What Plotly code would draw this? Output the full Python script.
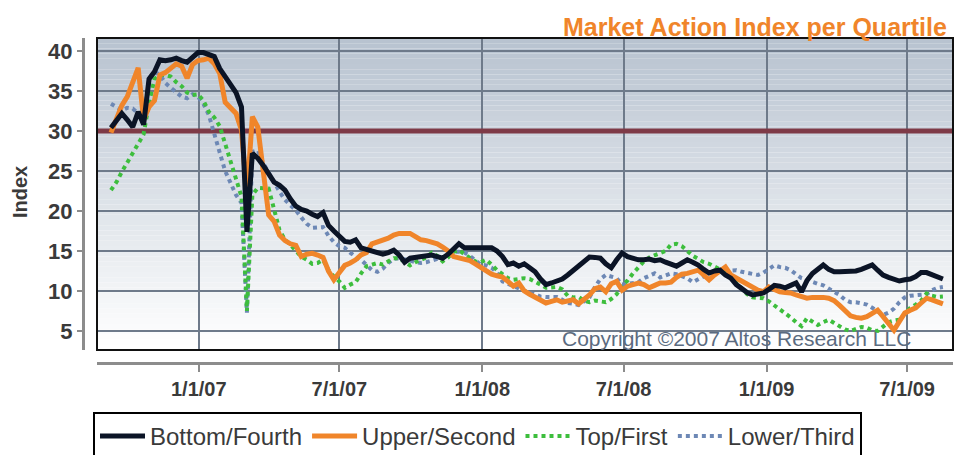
import pandas as pd
import plotly.graph_objects as go

# ---- data (weekly readings) ----
start_date = "2006-09-10"
n_weeks = 154
dates = pd.date_range(start_date, periods=n_weeks, freq="7D")

bottom_fourth = [
    30.4, 31.3, 32.2, 31.4, 30.5, 32.4, 30.8, 36.5, 37.4, 38.9,
    38.8, 38.9, 39.1, 38.8, 38.6, 39.2, 39.8, 39.8, 39.6, 39.3,
    37.8, 36.8, 36.0, 34.8, 33.0, 17.4, 27.2, 26.6, 25.7, 24.7,
    23.6, 23.2, 22.6, 21.5, 20.6, 20.2, 20.0, 19.6, 19.3, 19.8,
    18.2, 17.5, 16.8, 16.2, 16.1, 16.4, 15.4, 15.2, 15.1, 14.9,
    14.6, 14.8, 15.1, 14.5, 13.6, 14.1, 14.2, 14.3, 14.4, 14.5,
    14.3, 14.1, 14.6, 15.3, 15.9, 15.4, 15.4, 15.5, 15.5, 15.5,
    15.4, 15.0, 14.3, 13.3, 13.5, 13.1, 13.4, 12.9, 12.4, 11.5,
    10.8, 11.0, 11.25, 11.5, 12.0, 12.6, 13.0, 13.8, 14.25, 14.2,
    14.1, 13.4, 12.9, 13.9, 14.75, 14.3, 14.1, 13.9, 13.9, 14.0,
    13.8, 13.9, 13.6, 13.4, 13.1, 13.5, 13.9, 13.6, 13.25, 12.7,
    12.25, 12.5, 12.6, 12.0, 11.6, 10.8, 10.2, 9.8, 9.5, 9.6,
    9.75, 10.2, 10.7, 10.6, 10.4, 10.7, 11.0, 9.9, 11.3, 12.2,
    12.8, 13.25, 12.7, 12.4, 12.4, 12.4, 12.5, 12.5, 12.7, 13.0,
    13.25, 12.6, 12.0, 11.7, 11.4, 11.25, 11.4, 11.5, 11.8, 12.3,
    12.3, 12.0, 11.7, 11.5,
]

upper_second = [
    29.8, 31.5, 33.2, 34.3, 36.2, 37.9, 31.4, 33.0, 33.8, 37.0,
    37.3, 37.8, 38.4, 38.1, 36.6, 38.3, 38.8, 38.9, 39.1, 38.4,
    37.2, 33.6, 32.8, 32.2, 30.1, 22.0, 31.8, 30.5, 25.0, 19.5,
    18.7, 17.0, 16.3, 15.9, 15.7, 14.3, 14.6, 14.7, 14.5, 14.2,
    12.5, 11.4, 12.3, 13.2, 13.5, 13.9, 14.5, 14.8, 15.9, 16.1,
    16.3, 16.6, 17.0, 17.2, 17.2, 17.2, 16.8, 16.4, 16.3, 16.1,
    15.9, 15.5, 15.0, 14.3, 14.1, 14.0, 13.8, 13.4, 13.0, 12.5,
    12.1, 11.9, 11.75, 11.2, 10.6, 11.0, 10.0, 9.6, 9.2, 8.9,
    8.5, 8.7, 8.9, 8.6, 8.8, 8.9, 8.4, 8.9, 9.5, 10.3,
    10.5, 9.9, 10.9, 11.2, 10.1, 10.6, 10.8, 11.0, 10.8, 10.4,
    10.7, 11.0, 11.0, 11.1, 11.7, 12.1, 12.2, 12.4, 12.6, 12.0,
    11.4, 12.0, 12.5, 13.0, 12.0, 11.6, 11.2, 10.8, 10.4, 10.1,
    9.9, 10.5, 10.2, 9.9, 9.8, 9.75, 9.5, 9.3, 9.1, 9.2,
    9.25, 9.2, 9.1, 8.8, 8.2, 7.6, 6.9, 6.7, 6.6, 6.8,
    7.2, 7.6, 6.8, 6.0, 5.1, 6.2, 7.25, 7.6, 7.9, 8.5,
    9.1, 8.9, 8.6, 8.4,
]

top_first = [
    22.6, 23.6, 24.9, 26.0, 27.3, 28.4, 29.6, 33.5, 36.5, 37.0,
    37.0, 36.8, 36.1, 35.6, 34.8, 34.5, 34.6, 33.8, 32.4, 31.7,
    30.6, 28.4, 26.6, 24.3, 21.8, 7.5, 22.0, 22.9, 22.9, 22.8,
    20.2, 17.6, 16.4, 15.8, 15.0, 14.3, 13.9, 13.4, 13.5, 13.9,
    12.6, 11.8, 11.2, 10.4, 10.8, 11.1, 12.2, 13.1, 13.3, 13.5,
    13.3, 13.7, 14.1, 14.1, 13.7, 13.2, 13.6, 13.9, 14.2, 14.8,
    14.4, 13.7, 14.2, 14.9, 15.1, 14.6, 14.2, 13.7, 13.6, 13.9,
    13.3, 12.6, 12.1, 11.6, 11.4, 11.5, 11.6, 11.5, 11.2, 10.8,
    10.4, 10.4, 10.5, 10.2, 9.4, 9.2, 9.25, 8.8, 8.6, 8.8,
    8.7, 8.6, 9.0, 9.6, 10.7, 11.3, 12.2, 13.0, 13.7, 14.2,
    14.5, 14.7, 15.0, 15.8, 15.9, 15.6, 15.0, 14.4, 14.0, 13.6,
    13.4, 13.1, 12.7, 12.2, 11.7, 11.0, 10.3, 9.6, 9.2, 9.2,
    9.1, 8.7, 8.2, 7.8, 7.2, 6.7, 6.1, 5.6, 6.6, 6.2,
    5.75, 6.1, 6.4, 6.0, 5.6, 5.2, 5.0, 5.3, 5.5, 5.4,
    5.1, 5.0, 5.6, 6.1, 6.3, 6.4, 7.2, 7.9, 8.3, 8.8,
    9.7, 9.4, 9.25, 9.3,
]

lower_third = [
    33.4, 33.0, 32.6, 32.9, 32.8, 32.2, 31.0, 36.4, 37.4, 37.0,
    36.0, 35.4, 34.9, 34.3, 34.1, 34.6, 34.3, 33.4, 32.0, 29.5,
    27.3, 25.0, 23.6, 22.0, 21.0, 7.3, 27.4, 27.6, 26.0, 24.7,
    23.6, 22.4, 21.4, 20.7, 20.1, 19.2, 18.4, 17.9, 17.9, 18.0,
    16.9, 16.1, 15.6, 15.4, 14.8, 14.25, 13.9, 13.3, 12.6, 12.4,
    12.8, 13.5, 14.0, 14.1, 14.0, 13.8, 13.6, 13.5, 13.6, 13.8,
    13.9, 14.2, 14.5, 14.9, 14.9, 14.8, 14.4, 13.8, 13.3, 13.2,
    12.9, 12.3, 11.2, 10.9, 10.6, 10.3, 10.0, 9.75, 9.6, 9.3,
    9.25, 9.3, 9.25, 8.9, 8.5, 8.4, 8.25, 8.7, 9.2, 10.5,
    11.5, 12.0, 11.8, 11.6, 10.8, 10.9, 11.0, 11.1, 11.6, 11.9,
    12.2, 11.7, 11.9, 12.2, 12.1, 11.8, 11.6, 11.1, 11.5, 11.9,
    12.2, 12.5, 12.6, 12.5, 12.5, 12.6, 12.4, 12.3, 12.2, 12.0,
    12.3, 12.8, 13.2, 13.0, 12.9, 12.6, 12.1, 11.6, 11.4, 11.1,
    10.9, 10.7, 10.3, 10.0, 9.5, 8.9, 8.6, 8.6, 8.5, 8.3,
    7.9, 7.4, 7.0, 7.3, 7.8, 8.6, 9.2, 9.4, 9.5, 9.5,
    9.6, 10.1, 10.4, 10.5,
]

threshold = 30
x_range = ["2006-08-23", "2009-08-29"]
x_tick_dates = ["2007-01-01", "2007-07-01", "2008-01-01", "2008-07-01", "2009-01-01", "2009-07-01"]
x_tick_labels = ["1/1/07", "7/1/07", "1/1/08", "7/1/08", "1/1/09", "7/1/09"]
y_ticks = [5, 10, 15, 20, 25, 30, 35, 40]

# ---- styling ----
FONT = "Liberation Sans, Arial, sans-serif"
C_BLACK = "#0B1426"
C_ORANGE = "#F0852A"
C_GREEN = "#3DBE3D"
C_BLUE = "#6D88B5"
C_GRID = "#6E7A8A"

fig = go.Figure()

# reference line at the threshold, drawn first so data lines sit on top
fig.add_trace(go.Scatter(
    x=x_range, y=[threshold, threshold], mode="lines",
    line=dict(color="#7E3A47", width=5), showlegend=False, hoverinfo="skip",
))

series = [
    ("Lower/Third", lower_third, C_BLUE, 4, "dot", 4),
    ("Top/First", top_first, C_GREEN, 4, "dot", 3),
    ("Upper/Second", upper_second, C_ORANGE, 5, "solid", 2),
    ("Bottom/Fourth", bottom_fourth, C_BLACK, 5, "solid", 1),
]
for name, vals, color, width, dash, rank in series:
    fig.add_trace(go.Scatter(
        x=dates, y=vals, name=name, mode="lines",
        line=dict(color=color, width=width, dash=dash),
        legendrank=rank,
    ))

# gradient background bands
N = 60
top_rgb = (184, 195, 208)
bot_rgb = (255, 255, 255)
shapes = []
for k in range(N):
    t = k / (N - 1)
    r = round(bot_rgb[0] + (top_rgb[0] - bot_rgb[0]) * t)
    g = round(bot_rgb[1] + (top_rgb[1] - bot_rgb[1]) * t)
    b = round(bot_rgb[2] + (top_rgb[2] - bot_rgb[2]) * t)
    shapes.append(dict(type="rect", xref="x domain", yref="y domain",
                       x0=0, x1=1, y0=k / N, y1=(k + 1) / N,
                       fillcolor=f"rgb({r},{g},{b})", line=dict(width=0), layer="below"))
shapes.append(dict(type="rect", xref="x domain", yref="y domain", x0=0, x1=1, y0=0, y1=1,
                   line=dict(color="#111111", width=2), layer="above"))

W, H = 955, 455
ml, mr, mt, mb = 20, 2, 38, 80
pw, ph = W - ml - mr, H - mt - mb


def px_x(p):
    return (p - ml) / pw


def px_y(p):
    return (H - mb - p) / ph


fig.update_layout(
    width=W, height=H,
    margin=dict(l=ml, r=mr, t=mt, b=mb, autoexpand=False),
    paper_bgcolor="white", plot_bgcolor="rgba(0,0,0,0)",
    shapes=shapes,
    showlegend=True,
    legend=dict(orientation="h", x=px_x(93), y=px_y(412), xanchor="left", yanchor="top",
                bordercolor="#000000", borderwidth=2, bgcolor="white",
                font=dict(family=FONT, size=24, color="#3A3A3A"),
                traceorder="normal", itemwidth=45),
    xaxis=dict(
        type="date", domain=[px_x(97), 1],
        range=x_range,
        anchor="free", position=px_y(363),
        tickvals=x_tick_dates, ticktext=x_tick_labels,
        showgrid=True, gridcolor=C_GRID, gridwidth=2,
        showline=True, linecolor="#8C8C8C", linewidth=3,
        ticks="outside", ticklen=7, tickwidth=2, tickcolor="#8C8C8C",
        tickfont=dict(family=FONT, size=20, color="#3A3A3A", weight="bold"),
        zeroline=False,
    ),
    yaxis=dict(
        domain=[px_y(350), 1],
        range=[2.625, 41.625],
        anchor="free", position=px_x(83),
        tickvals=y_ticks,
        showgrid=True, gridcolor=C_GRID, gridwidth=2,
        showline=True, linecolor="#8C8C8C", linewidth=3,
        ticks="outside", ticklen=5, tickwidth=2, tickcolor="#8C8C8C",
        tickfont=dict(family=FONT, size=22, color="#3A3A3A", weight="bold"),
        zeroline=False,
    ),
    annotations=[
        dict(text="Market Action Index per Quartile", xref="paper", yref="paper",
             x=px_x(949), y=px_y(27), xanchor="right", yanchor="middle", showarrow=False,
             font=dict(family=FONT, size=25, color=C_ORANGE, weight="bold")),
        dict(text="Index", xref="paper", yref="paper", textangle=-90,
             x=px_x(20), y=px_y(192), xanchor="center", yanchor="middle", showarrow=False,
             font=dict(family=FONT, size=20, color="#3A3A3A", weight="bold")),
        dict(text="Copyright ©2007 Altos Research LLC", xref="paper", yref="paper",
             x=px_x(913), y=px_y(338), xanchor="right", yanchor="middle", showarrow=False,
             font=dict(family=FONT, size=21, color="#5B6B80")),
    ],
)

fig.write_html("out.html", config={"displayModeBar": False},
               post_script="document.body.style.margin='0px';")
